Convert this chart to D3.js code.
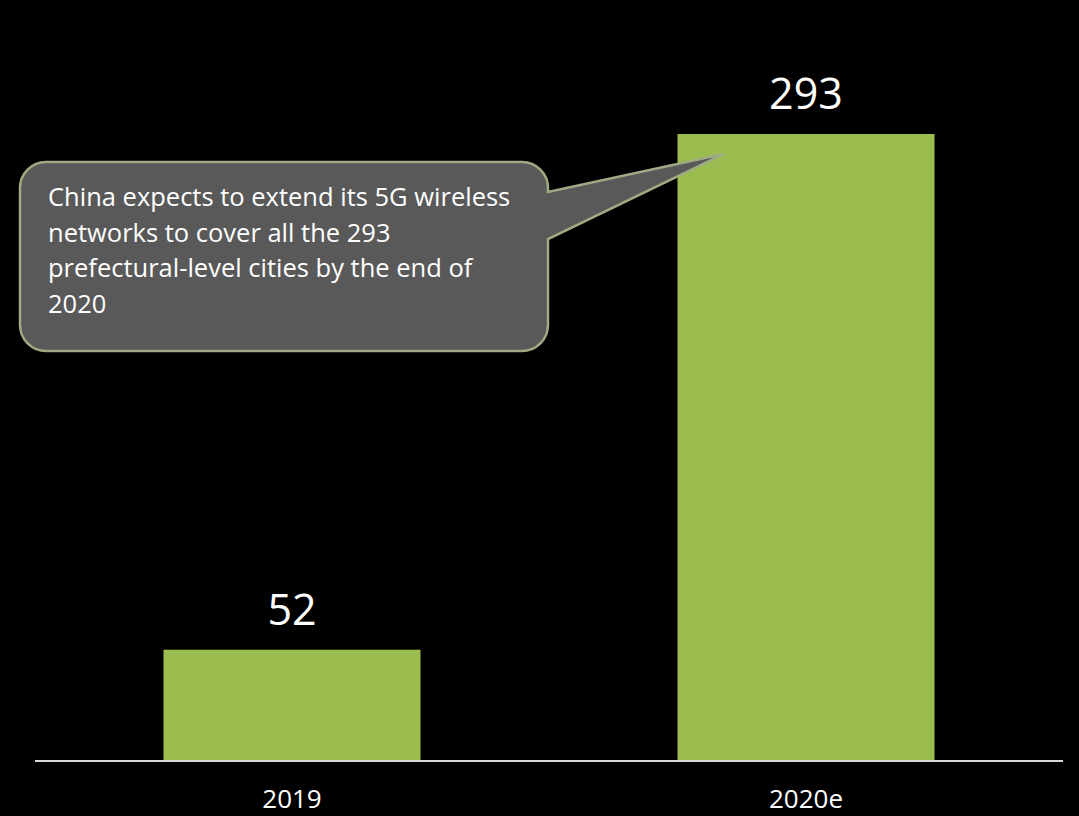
<!DOCTYPE html>
<html>
<head>
<meta charset="utf-8">
<script src="https://cdn.jsdelivr.net/npm/d3@7"></script>
<style>
  html, body { margin: 0; padding: 0; background: #000; }
  svg { display: block; }
</style>
</head>
<body>
<svg id="chart" width="1079" height="816"></svg>
<script>
// Prefecture-level cities covered by 5G networks in China
const categories = ["2019", "2020e"];
const cities = [52, 293];
const noteLines = [
  "China expects to extend its 5G wireless",
  "networks to cover all the 293",
  "prefectural-level cities by the end of",
  "2020"
];

const W = 1079, H = 816;
const svg = d3.select("#chart");
const font = "'Open Sans', 'Noto Sans', sans-serif";

svg.append("rect").attr("width", W).attr("height", H).attr("fill", "#000");

const x = d3.scaleBand()
  .domain(categories)
  .range([35, 1063])
  .paddingInner(0.5)
  .paddingOuter(0.25);

const y = d3.scaleLinear()
  .domain([0, 293])
  .range([761, 134]);

// bars
svg.append("g").selectAll("rect")
  .data(categories)
  .join("rect")
  .attr("x", d => x(d))
  .attr("y", (d, i) => y(cities[i]))
  .attr("width", x.bandwidth())
  .attr("height", (d, i) => y(0) - y(cities[i]))
  .attr("fill", "#9BBD4F");

// value labels
svg.append("g").selectAll("text")
  .data(categories)
  .join("text")
  .attr("x", d => x(d) + x.bandwidth() / 2)
  .attr("y", (d, i) => y(cities[i]) - 25)
  .attr("text-anchor", "middle")
  .attr("font-family", font)
  .attr("font-size", 43)
  .attr("fill", "#fff")
  .text((d, i) => cities[i]);

// category axis
const axis = svg.append("g")
  .attr("transform", `translate(0,${y(0)})`)
  .call(d3.axisBottom(x).tickSize(0).tickPadding(29));
axis.select(".domain")
  .attr("stroke", "#d9d9d9")
  .attr("stroke-width", 2)
  .attr("d", "M35,0H1063");
axis.selectAll(".tick text")
  .attr("font-family", font)
  .attr("font-size", 26)
  .attr("fill", "#fff")
  .attr("dy", "0.71em");

// callout balloon pointing at the 2020e bar
const L = 20, T = 162, R = 548, B = 351, r = 26;
const tipX = x("2020e") + 46, tipY = y(293) + 20;
const p = d3.path();
p.moveTo(L + r, T);
p.lineTo(R - r, T);
p.arcTo(R, T, R, T + r, r);
p.lineTo(R, 192);
p.lineTo(tipX, tipY);
p.lineTo(R, 239);
p.lineTo(R, B - r);
p.arcTo(R, B, R - r, B, r);
p.lineTo(L + r, B);
p.arcTo(L, B, L, B - r, r);
p.lineTo(L, T + r);
p.arcTo(L, T, L + r, T, r);
p.closePath();

svg.append("path")
  .attr("d", p.toString())
  .attr("fill", "#595959")
  .attr("stroke", "#9EAB82")
  .attr("stroke-width", 2.5)
  .attr("stroke-linejoin", "miter");

svg.append("g").selectAll("text")
  .data(noteLines)
  .join("text")
  .attr("x", 48)
  .attr("y", (d, i) => 206 + i * 35.7)
  .attr("font-family", font)
  .attr("font-size", 25.5)
  .attr("fill", "#fff")
  .text(d => d);
</script>
</body>
</html>
